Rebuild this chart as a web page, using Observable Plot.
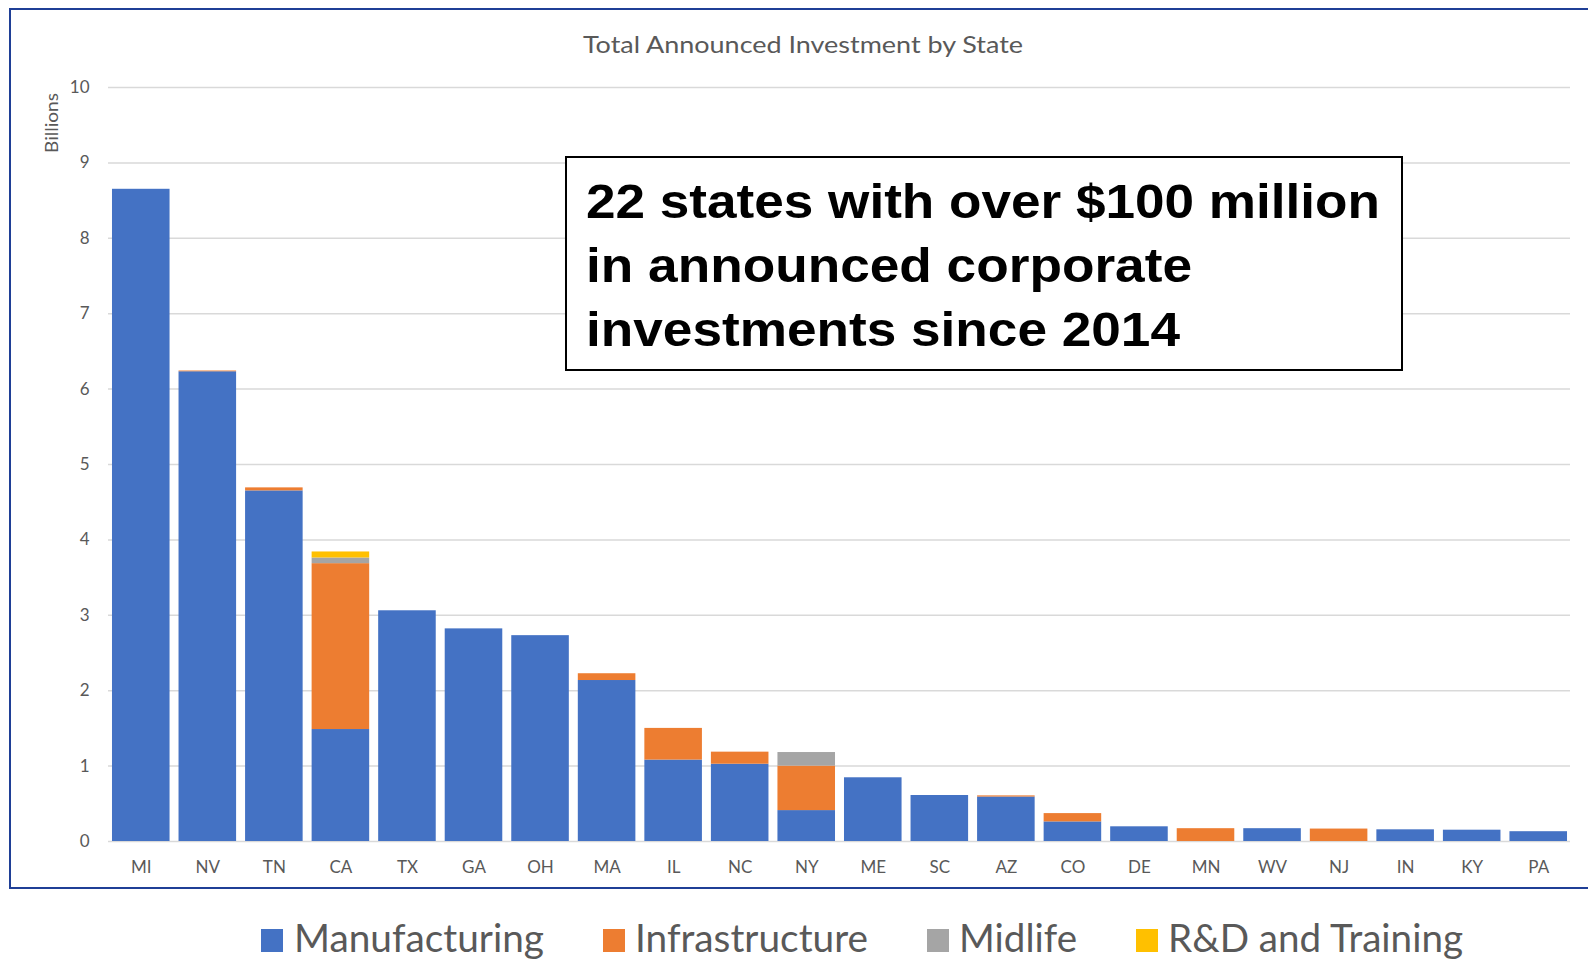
<!DOCTYPE html>
<html>
<head>
<meta charset="utf-8">
<script src="https://cdn.jsdelivr.net/npm/d3@7"></script>
<script src="https://cdn.jsdelivr.net/npm/@observablehq/plot@0.6"></script>
<style>
  html, body { margin: 0; padding: 0; background: #ffffff; }
  #wrap { position: relative; width: 1588px; height: 961px; overflow: hidden; background: #fff; }
  #chart { position: absolute; left: 0; top: 0; }
  #overlay { position: absolute; left: 0; top: 0; pointer-events: none; }
</style>
</head>
<body>
<div id="wrap">
  <div id="chart"></div>
  <svg id="overlay" width="1588" height="961"></svg>
</div>
<script>
// ---- Data (values in billions of dollars) ----
const states = ["MI","NV","TN","CA","TX","GA","OH","MA","IL","NC","NY","ME","SC","AZ","CO","DE","MN","WV","NJ","IN","KY","PA"];
const manufacturing  = [8.65, 6.23, 4.65, 1.485, 3.06, 2.82, 2.73, 2.135, 1.08, 1.025, 0.41, 0.845, 0.61, 0.59, 0.26, 0.195, 0, 0.17, 0, 0.155, 0.15, 0.13];
const infrastructure = [0, 0.01, 0.04, 2.20, 0, 0, 0, 0.09, 0.42, 0.16, 0.59, 0, 0, 0.015, 0.11, 0, 0.17, 0, 0.165, 0, 0, 0];
const midlife        = [0, 0, 0, 0.075, 0, 0, 0, 0, 0, 0, 0.18, 0, 0, 0, 0, 0, 0, 0, 0, 0, 0, 0];
const rdTraining     = [0, 0, 0, 0.08, 0, 0, 0, 0, 0, 0, 0, 0, 0, 0, 0, 0, 0, 0, 0, 0, 0, 0];
const seriesNames  = ["Manufacturing", "Infrastructure", "Midlife", "R&D and Training"];
const seriesColors = ["#4472C4", "#ED7D31", "#A5A5A5", "#FFC000"];
const yTicks = [0,1,2,3,4,5,6,7,8,9,10];
const chartTitle = "Total Announced Investment by State";
const yLabel = "Billions";
const noteLines = ["22 states with over $100 million", "in announced corporate", "investments since 2014"];

const seriesValues = [manufacturing, infrastructure, midlife, rdTraining];
const rows = [];
seriesNames.forEach((s, i) => {
  states.forEach((st, j) => rows.push({state: st, series: s, value: seriesValues[i][j]}));
});

const plot = Plot.plot({
  width: 1588,
  height: 890,
  marginLeft: 108,
  marginRight: 18,
  marginTop: 87,
  marginBottom: 49,
  style: {fontFamily: "Lato, 'Open Sans', sans-serif", fontSize: "17px", color: "#595959", background: "transparent"},
  x: {domain: states, padding: 0.135, range: [103, 1576], round: false, label: null},
  y: {domain: [0, 10], label: null},
  color: {domain: seriesNames, range: seriesColors},
  marks: [
    Plot.gridY(yTicks, {stroke: "#d9d9d9", strokeOpacity: 1, strokeWidth: 1.5}),
    Plot.axisY(yTicks, {tickSize: 0, tickPadding: 19, label: null, fill: "#595959", fontSize: 17, tickFormat: d3.format("d")}),
    Plot.axisX({tickSize: 0, tickPadding: 19, label: null, fill: "#595959", fontSize: 17}),
    Plot.barY(rows, {x: "state", y: "value", fill: "series", z: "series", order: seriesNames})
  ]
});
document.getElementById("chart").appendChild(plot);

// ---- Overlay: border, title, y label, annotation, legend ----
const ov = d3.select("#overlay");
const fontFam = "Lato, 'Open Sans', sans-serif";

// blue frame
ov.append("path")
  .attr("d", "M1600,9 L10,9 L10,888 L1600,888")
  .attr("fill", "none").attr("stroke", "#1f3f96").attr("stroke-width", 2);

// title
ov.append("text")
  .attr("x", 583).attr("y", 53)
  .attr("textLength", 440).attr("lengthAdjust", "spacingAndGlyphs")
  .attr("font-family", fontFam).attr("font-size", 23).attr("fill", "#595959")
  .text(chartTitle);

// y label
ov.append("text")
  .attr("transform", "translate(58,123) rotate(-90)")
  .attr("text-anchor", "middle")
  .attr("textLength", 60).attr("lengthAdjust", "spacingAndGlyphs")
  .attr("font-family", fontFam).attr("font-size", 18).attr("fill", "#595959")
  .text(yLabel);

// annotation box
ov.append("rect")
  .attr("x", 566).attr("y", 157).attr("width", 836).attr("height", 213)
  .attr("fill", "#fff").attr("stroke", "#000").attr("stroke-width", 2);
const noteWidths = [794, 606, 594];
const noteBase = [218, 282, 346];
noteLines.forEach((t, i) => {
  ov.append("text")
    .attr("x", 586).attr("y", noteBase[i])
    .attr("textLength", noteWidths[i]).attr("lengthAdjust", "spacingAndGlyphs")
    .attr("font-family", "'Liberation Sans', Arial, sans-serif").attr("font-weight", "bold")
    .attr("font-size", 49).attr("fill", "#000")
    .text(t);
});

// legend
const legSq = [261, 603, 927, 1136];
const legTx = [294, 635, 959, 1168];
const legW  = [250, 233, 118, 295];
seriesNames.forEach((s, i) => {
  ov.append("rect")
    .attr("x", legSq[i]).attr("y", 929).attr("width", 22).attr("height", 23)
    .attr("fill", seriesColors[i]);
  ov.append("text")
    .attr("x", legTx[i]).attr("y", 952)
    .attr("textLength", legW[i]).attr("lengthAdjust", "spacingAndGlyphs")
    .attr("font-family", fontFam).attr("font-size", 38).attr("fill", "#595959")
    .text(s);
});
</script>
</body>
</html>
